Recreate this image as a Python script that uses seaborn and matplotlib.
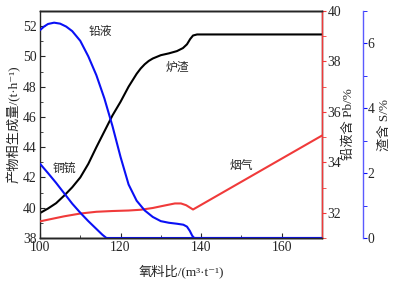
import pandas as pd
import matplotlib
matplotlib.use('Agg')
import matplotlib.pyplot as plt
from matplotlib.ticker import MultipleLocator
import seaborn as sns

# 炉渣 (t/h, left axis)
slag_x = [100, 102, 104, 106, 108, 110, 112, 114, 116, 118, 120, 122, 124, 125, 126, 127,
          128, 130, 132, 134, 135.5, 136.5, 137.3, 138, 139, 170]
slag_y = [39.65, 39.95, 40.3, 40.8, 41.35, 42.0, 42.9, 44.0, 45.05, 46.1, 47.0, 48.0, 48.85,
          49.2, 49.48, 49.7, 49.86, 50.08, 50.2, 50.35, 50.55, 50.8, 51.15, 51.38, 51.45, 51.45]

# 铅液 (blue axis)
lead_x = [100, 101, 102, 103.5, 105, 106.5, 108, 110, 112, 114, 116, 118, 120, 122, 124,
          126, 128, 130, 132, 134, 135.6, 136.5, 137.2, 137.8, 138.3, 170]
lead_y = [6.41, 6.52, 6.6, 6.64, 6.61, 6.52, 6.38, 6.08, 5.6, 5.02, 4.3, 3.45, 2.5, 1.65, 1.15,
          0.85, 0.65, 0.52, 0.47, 0.44, 0.41, 0.35, 0.22, 0.07, 0.0, 0.0]

# 铜锍 (blue axis)
matte_x = [100, 102, 104, 106, 108, 110, 112, 114, 115.5, 116.5, 170]
matte_y = [2.29, 2.0, 1.7, 1.38, 1.06, 0.78, 0.52, 0.28, 0.1, 0.0, 0.0]

# 烟气 (red axis)
gas_x = [100, 103, 106, 110, 114, 118, 122, 125, 128, 131, 133.5, 135, 136.3, 137.3, 138, 170]
gas_y = [31.66, 31.76, 31.86, 31.97, 32.04, 32.07, 32.09, 32.12, 32.19, 32.29, 32.37, 32.37,
         32.3, 32.2, 32.13, 35.06]

labels = {'铅液': (114.9, 51.6), '炉渣': (134.2, 49.26), '铜锍': (106.1, 42.57), '烟气': (150.1, 42.73)}

sns.set_style('ticks')
fam = ['Liberation Serif', 'DejaVu Serif', 'Noto Sans CJK SC']
plt.rcParams['font.family'] = fam
plt.rcParams['axes.unicode_minus'] = False

RED = '#f03a3a'
BLUE = '#0a10f5'

fig, ax = plt.subplots(figsize=(3.94, 2.82), dpi=100)
fig.subplots_adjust(left=0.1015, right=0.817, bottom=0.156, top=0.961)
ax_r = ax.twinx()
ax_b = ax.twinx()
ax_b.spines['right'].set_position(('axes', 1.145))

sns.lineplot(x=slag_x, y=slag_y, ax=ax, color='black', lw=1.5)
sns.lineplot(x=gas_x, y=gas_y, ax=ax_r, color=RED, lw=1.5)
sns.lineplot(x=lead_x, y=lead_y, ax=ax_b, color=BLUE, lw=1.5)
sns.lineplot(x=matte_x, y=matte_y, ax=ax_b, color=BLUE, lw=1.5)

ax.set_xlim(100, 170)
ax.set_ylim(38, 53)
ax_r.set_ylim(31, 40)
ax_b.set_ylim(0, 7)

ax.xaxis.set_major_locator(MultipleLocator(20))
ax.xaxis.set_minor_locator(MultipleLocator(10))
ax.yaxis.set_major_locator(MultipleLocator(2))
ax.yaxis.set_minor_locator(MultipleLocator(1))
ax.tick_params(which='both', direction='in', labelsize=9.8, top=False, right=False)
ax.tick_params(axis='x', pad=2)
ax.tick_params(axis='y', pad=2.5)
ax.tick_params(which='major', length=3.5)
ax.tick_params(which='minor', length=2.5)

ax_r.yaxis.set_major_locator(MultipleLocator(2))
ax_r.yaxis.set_minor_locator(MultipleLocator(1))
ax_r.tick_params(which='both', direction='out', length=3, color=RED, labelsize=9.8, pad=1.2)
ax_r.spines['right'].set_color(RED)

ax_b.yaxis.set_major_locator(MultipleLocator(2))
ax_b.yaxis.set_minor_locator(MultipleLocator(1))
ax_b.tick_params(which='both', direction='out', length=3, color=BLUE, labelsize=9.8, pad=0.5)
ax_b.spines['right'].set_color('#5a5aff')

for a in (ax, ax_r, ax_b):
    for s in a.spines.values():
        s.set_linewidth(1.0)
ax_r.spines['left'].set_visible(False)
ax_b.spines['left'].set_visible(False)

ax.set_xlabel('氧料比/(m³·t⁻¹)', fontsize=9.5)
ax.xaxis.set_label_coords(0.5, -0.115)
ax.set_ylabel('产物相生成量/(t·h⁻¹)', fontsize=9.5)
ax.yaxis.set_label_coords(-0.068, 0.5)
ax_r.set_ylabel('铅液含 Pb/%', fontsize=9.5)
ax_r.yaxis.set_label_coords(1.072, 0.5)
ax_b.set_ylabel('渣含 S/%', fontsize=9.5)
ax_b.yaxis.set_label_coords(1.2, 0.5)

for txt, (tx, ty) in labels.items():
    ax.text(tx, ty, txt, fontsize=8.5, ha='center', va='center')

fig.savefig('out.png', dpi=100)
